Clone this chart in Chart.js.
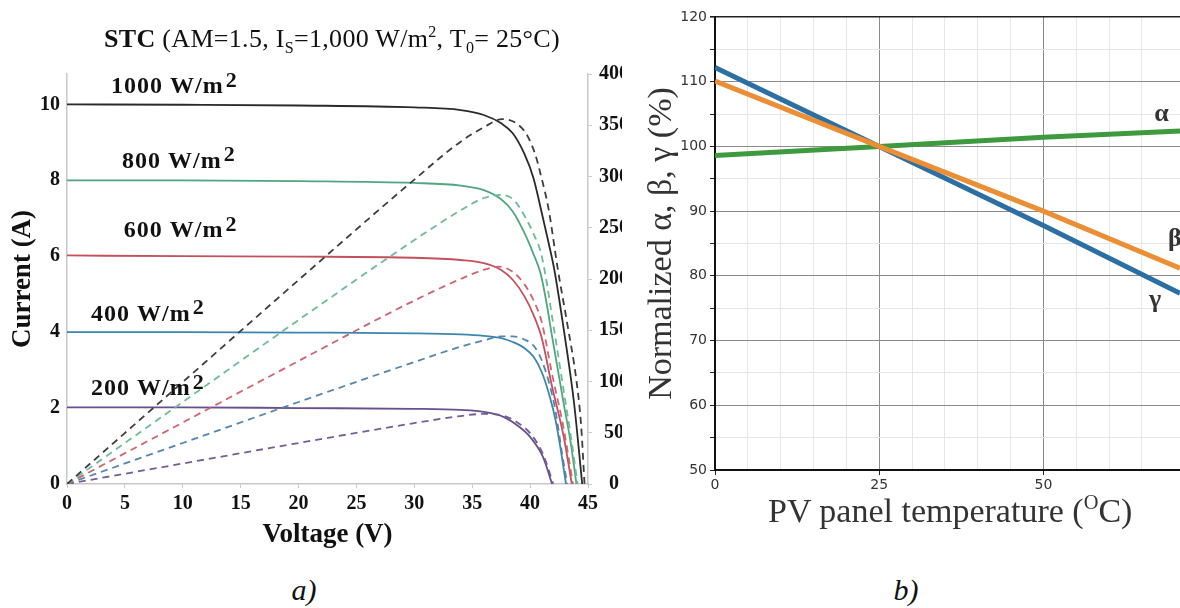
<!DOCTYPE html>
<html>
<head>
<meta charset="utf-8">
<script src="https://cdn.jsdelivr.net/npm/chart.js@4.4.1/dist/chart.umd.min.js"></script>
<style>
  html, body { margin: 0; padding: 0; background: #fff; }
  body { width: 1180px; height: 608px; position: relative; overflow: hidden; font-family: 'Liberation Serif', 'Times New Roman', serif; color: #111; }
  #panelA { position: absolute; left: 0; top: 0; width: 622px; height: 608px; overflow: hidden; }
  #panelB { position: absolute; left: 622px; top: 0; width: 558px; height: 608px; overflow: hidden; }
  canvas { position: absolute; left: 0; top: 0; }
  .txt { position: absolute; white-space: nowrap; }
  #titleA { left: 0; width: 664px; top: 26px; text-align: center; font-size: 26px; line-height: 26px; letter-spacing: 0.3px; }
  #titleA sub, #titleA sup { font-size: 62%; line-height: 0; }
  #xTitleB { left: 768px; top: 494px; font-size: 34px; line-height: 34px; color: #333; }
  #xTitleB sup { font-size: 60%; line-height: 0; vertical-align: 0.62em; }
  .cap { top: 575px; width: 100px; text-align: center; font-style: italic; font-size: 30px; line-height: 30px; }
</style>
</head>
<body>
<div id="panelA"><canvas id="chartA" width="640" height="555"></canvas></div>
<div id="panelB"><canvas id="chartB" width="558" height="560"></canvas></div>
<div class="txt" id="titleA"><b>STC</b> (AM=1.5, I<sub>S</sub>=1,000 W/m<sup>2</sup>, T<sub>0</sub>= 25°C)</div>
<div class="txt" id="xTitleB">PV panel temperature (<sup>O</sup>C)</div>
<div class="txt cap" style="left:254px">a)</div>
<div class="txt cap" style="left:856px">b)</div>
<script>
// ---------- a) I-V (solid) y P-V (discontinua) por irradiancia ----------
const irradiance = ['1000', '800', '600', '400', '200'];

const V_1000 = [0, 10, 20, 30, 34, 36, 37.5, 38.5, 39.5, 40.3, 41, 41.6, 42.1, 43.0, 43.8, 44.5];
const I_1000 = [10.0, 9.99, 9.97, 9.92, 9.85, 9.72, 9.5, 9.24, 8.7, 8.05, 7.15, 6.35, 5.63, 3.88, 2.12, 0];
const VP_1000 = [0, 10, 20, 30, 34, 36, 37.6, 38.8, 39.7, 40.4, 41, 41.6, 42.4, 43.2, 44.0, 44.4, 44.7];
const P_1000 = [0, 99.5, 199, 297, 334, 348, 356, 352, 341, 323, 298, 268, 209, 157, 101, 58, 0];

const V_800 = [0, 10, 20, 30, 34, 36, 37.5, 38.5, 39.5, 40.3, 40.9, 41.4, 41.9, 42.9, 43.5, 44.0];
const I_800 = [8.0, 8.0, 7.98, 7.93, 7.86, 7.74, 7.5, 7.18, 6.62, 6.05, 5.55, 4.8, 3.88, 2.12, 1.1, 0];
const VP_800 = [0, 10, 20, 30, 34, 36, 37.6, 38.6, 39.5, 40.3, 40.9, 41.4, 41.9, 42.9, 43.5, 44.1];
const P_800 = [0, 80, 160, 238, 267, 279, 282, 277, 262, 244, 227, 199, 163, 91, 48, 0];

const V_600 = [0, 10, 20, 30, 34, 36, 37.5, 38.5, 39.5, 40.3, 41, 41.9, 42.9, 43.6];
const I_600 = [6.02, 6.0, 5.99, 5.96, 5.9, 5.82, 5.64, 5.38, 4.95, 4.45, 3.85, 2.56, 1.25, 0];
const VP_600 = [0, 10, 20, 30, 34, 36, 37.3, 38.5, 39.5, 40.3, 41, 41.9, 42.9, 43.7];
const P_600 = [0, 60, 120, 179, 200, 209, 212, 207, 195, 179, 158, 107, 54, 0];

const V_400 = [0, 10, 20, 30, 34, 36, 37.5, 38.5, 39.5, 40.3, 41, 41.7, 42.2, 42.7, 43.1];
const I_400 = [4.0, 4.0, 3.99, 3.97, 3.94, 3.9, 3.84, 3.74, 3.58, 3.35, 2.95, 2.3, 1.68, 0.8, 0];
const VP_400 = [0, 10, 20, 30, 34, 36, 37.5, 38.5, 39.5, 40.3, 41, 41.7, 42.2, 42.7, 43.2];
const P_400 = [0, 40, 80, 119, 134, 140, 144, 144, 141, 135, 121, 96, 71, 34, 0];

const V_200 = [0, 10, 20, 30, 34, 36, 37.7, 39, 40, 41.1, 41.9];
const I_200 = [2.02, 2.02, 2.0, 1.98, 1.95, 1.9, 1.77, 1.52, 1.24, 0.72, 0];
const VP_200 = [0, 10, 20, 30, 34, 36, 37.7, 39, 40, 41.1, 42.0];
const P_200 = [0, 20, 40, 59.4, 66.3, 68.4, 66.7, 59.3, 49.6, 29.6, 0];

// ---------- b) coeficientes normalizados vs temperatura ----------
const temps = [0, 25, 50, 70.8];
const alphaVals = [98.6, 100, 101.4, 102.4];
const betaVals = [110.1, 100, 90, 81.2];
const gammaVals = [112.2, 100, 87.8, 77.3];
const greek = ['α', 'β', 'γ'];

// posiciones de las etiquetas (en unidades de datos)
const irrLabelAt = [[3.8, 10.45], [4.75, 8.5], [4.9, 6.66], [2.07, 4.47], [2.07, 2.5]];
const greekAt = [[68.0, 104.9], [70.0, 85.6], [67.0, 76.3]];

const SERIF = "'Liberation Serif', 'Times New Roman', serif";

function pts(xs, ys) {
  return xs.map((x, k) => ({ x: x, y: ys[k] }));
}

function ivSet(xs, ys, color) {
  return { data: pts(xs, ys), borderColor: color, borderWidth: 1.8, pointRadius: 0,
    cubicInterpolationMode: 'monotone', fill: false, yAxisID: 'y' };
}
function pvSet(xs, ys, color) {
  return { data: pts(xs, ys), borderColor: color, borderWidth: 1.8, borderDash: [7, 5], pointRadius: 0,
    cubicInterpolationMode: 'monotone', fill: false, yAxisID: 'y2' };
}

// etiquetas "xxx W/m2" sobre cada curva
const irrLabelsPlugin = {
  id: 'irrLabels',
  afterDatasetsDraw(chart) {
    const ctx = chart.ctx;
    const xs = chart.scales.x, ys = chart.scales.y;
    ctx.save();
    ctx.fillStyle = '#111';
    ctx.textBaseline = 'middle';
    ctx.textAlign = 'left';
    if ('letterSpacing' in ctx) ctx.letterSpacing = '1px';
    irradiance.forEach((txt, k) => {
      const px = xs.getPixelForValue(irrLabelAt[k][0]);
      const py = ys.getPixelForValue(irrLabelAt[k][1]);
      ctx.font = 'bold 24px ' + SERIF;
      const main = txt + ' W/m';
      ctx.fillText(main, px, py);
      const w = ctx.measureText(main).width;
      ctx.font = 'bold 22px ' + SERIF;
      ctx.fillText('2', px + w + 2, py - 6);
    });
    ctx.restore();
  }
};

const greekPlugin = {
  id: 'greekLabels',
  afterDatasetsDraw(chart) {
    const ctx = chart.ctx;
    const xs = chart.scales.x, ys = chart.scales.y;
    ctx.save();
    ctx.fillStyle = '#333';
    ctx.font = 'bold 26px ' + SERIF;
    ctx.textAlign = 'center';
    ctx.textBaseline = 'middle';
    greek.forEach((g, k) => {
      ctx.fillText(g, xs.getPixelForValue(greekAt[k][0]), ys.getPixelForValue(greekAt[k][1]));
    });
    ctx.restore();
  }
};

const tickFontA = { family: SERIF, size: 20, weight: 'bold' };
const titleFontA = { family: SERIF, size: 27, weight: 'bold' };

new Chart(document.getElementById('chartA'), {
  type: 'line',
  data: {
    datasets: [
      pvSet(VP_1000, P_1000, '#3d3d3d'),
      pvSet(VP_800, P_800, '#6dbb97'),
      pvSet(VP_600, P_600, '#d06470'),
      pvSet(VP_400, P_400, '#5486ad'),
      pvSet(VP_200, P_200, '#735f96'),
      ivSet(V_1000, I_1000, '#2a2a2a'),
      ivSet(V_800, I_800, '#4fa67f'),
      ivSet(V_600, I_600, '#c4505c'),
      ivSet(V_400, I_400, '#3a86ae'),
      ivSet(V_200, I_200, '#6a4e8e')
    ]
  },
  options: {
    responsive: false,
    animation: false,
    layout: { padding: { top: 74, left: 0, right: 0, bottom: 0 } },
    plugins: { legend: { display: false }, tooltip: { enabled: false } },
    scales: {
      x: {
        type: 'linear', min: 0, max: 45,
        ticks: { stepSize: 5, font: tickFontA, color: '#111', padding: 4, maxRotation: 0 },
        grid: { drawOnChartArea: false, tickLength: 4, color: '#c8c8c8' },
        border: { color: '#c8c8c8', width: 1.5 },
        title: { display: true, text: 'Voltage (V)', font: titleFontA, color: '#111', padding: { top: 0, bottom: 4 } },
        afterFit: s => { s.height = 71; }
      },
      y: {
        position: 'left', min: 0, max: 10.8,
        ticks: { stepSize: 2, font: tickFontA, color: '#111', padding: 7 },
        grid: { display: false, drawTicks: false },
        border: { display: true, color: '#c8c8c8', width: 1.5 },
        title: { display: true, text: 'Current (A)', font: titleFontA, color: '#111', padding: { top: 7, bottom: 0 } },
        afterBuildTicks: s => { s.ticks = s.ticks.filter(t => Math.abs(Math.round(t.value / 2) * 2 - t.value) < 1e-6); },
        afterFit: s => { s.width = 67; }
      },
      y2: {
        position: 'right', min: 0, max: 400,
        ticks: { stepSize: 50, font: tickFontA, color: '#111', padding: 7, crossAlign: 'center' },
        grid: { drawOnChartArea: false, tickLength: 4, color: '#c8c8c8' },
        border: { color: '#c8c8c8', width: 1.5 },
        afterFit: s => { s.width = 52; }
      }
    }
  },
  plugins: [irrLabelsPlugin]
});

new Chart(document.getElementById('chartB'), {
  type: 'line',
  data: {
    datasets: [
      { data: pts(temps, betaVals), borderColor: '#ea8f35', borderWidth: 5, pointRadius: 0, fill: false },
      { data: pts(temps, gammaVals), borderColor: '#2b6fa3', borderWidth: 5, pointRadius: 0, fill: false },
      { data: pts(temps, alphaVals), borderColor: '#3e9a3e', borderWidth: 5, pointRadius: 0, fill: false }
    ]
  },
  options: {
    responsive: false,
    animation: false,
    layout: { padding: { top: 17, left: 0, right: 0, bottom: 0 } },
    plugins: { legend: { display: false }, tooltip: { enabled: false } },
    scales: {
      x: {
        type: 'linear', min: 0, max: 70.8,
        ticks: { stepSize: 5, autoSkip: false, maxRotation: 0, padding: 2,
          font: { family: "'DejaVu Sans', sans-serif", size: 14 }, color: '#333',
          callback: v => (v % 25 === 0 ? v : '') },
        grid: {
          color: c => (c.tick && c.tick.value % 25 === 0 ? '#8a8a8a' : '#e6e6e6'),
          tickColor: c => (c.tick && c.tick.value % 25 === 0 ? '#222' : 'rgba(0,0,0,0)'),
          tickLength: 5
        },
        border: { color: '#111', width: 2 },
        afterBuildTicks: s => { s.ticks = s.ticks.filter(t => Math.abs(Math.round(t.value / 5) * 5 - t.value) < 1e-6); },
        afterFit: s => { s.height = 90; }
      },
      y: {
        min: 50, max: 120,
        ticks: { stepSize: 5, autoSkip: false, padding: 3,
          font: { family: "'DejaVu Sans', sans-serif", size: 14 }, color: '#333',
          callback: v => (v % 10 === 0 ? v : '') },
        grid: {
          color: c => (c.tick && c.tick.value === 120 ? '#222' : (c.tick && c.tick.value % 10 === 0 ? '#8a8a8a' : '#e6e6e6')),
          lineWidth: c => (c.tick && c.tick.value === 120 ? 1.6 : 1),
          tickColor: '#222',
          tickLength: 5
        },
        border: { color: '#111', width: 2 },
        title: { display: true, text: 'Normalized α, β, γ (%)', font: { family: SERIF, size: 34 }, color: '#333', padding: { top: 20, bottom: 0 } },
        afterFit: s => { s.width = 93; }
      }
    }
  },
  plugins: [greekPlugin]
});
</script>
</body>
</html>
